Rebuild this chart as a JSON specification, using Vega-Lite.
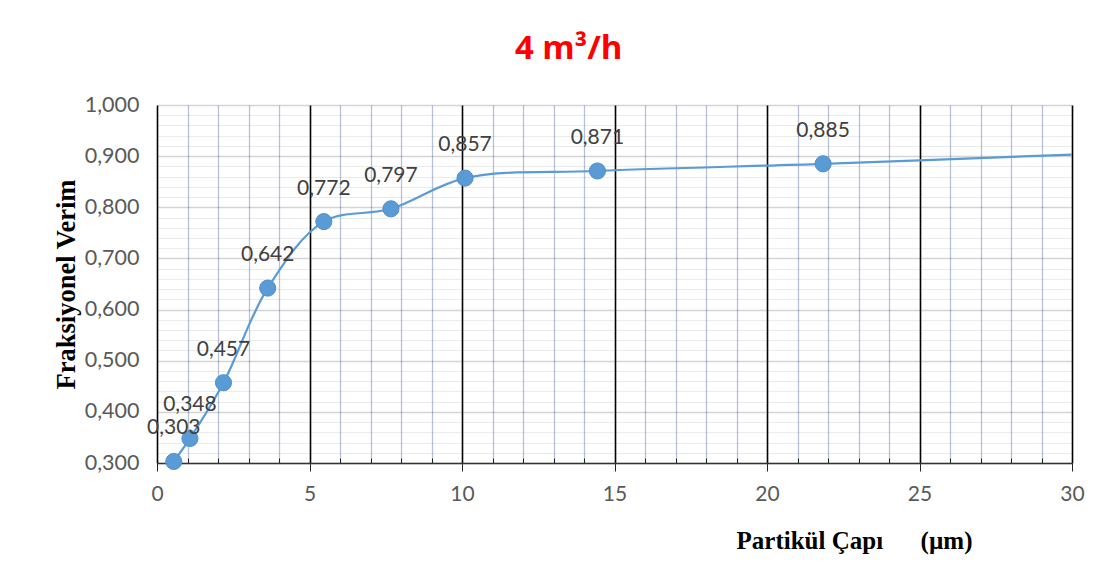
{
  "$schema": "https://vega.github.io/schema/vega-lite/v6.json",
  "width": 915,
  "height": 358,
  "autosize": {"type": "none"},
  "padding": {"left": 157, "top": 105, "right": 45, "bottom": 118},
  "background": "white",
  "title": {
    "text": "4 m³/h",
    "color": "#ff0000",
    "font": "Open Sans",
    "fontWeight": "bold",
    "fontSize": 33,
    "anchor": "middle",
    "frame": "bounds",
    "baseline": "alphabetic",
    "offset": 2
  },
  "data": {
    "values": [
      {"d": 0.55, "v": 0.303, "m": true},
      {"d": 1.08, "v": 0.348, "m": true},
      {"d": 2.18, "v": 0.457, "m": true},
      {"d": 3.63, "v": 0.642, "m": true},
      {"d": 5.47, "v": 0.772, "m": true},
      {"d": 7.67, "v": 0.797, "m": true},
      {"d": 10.1, "v": 0.857, "m": true},
      {"d": 14.44, "v": 0.871, "m": true},
      {"d": 21.84, "v": 0.885, "m": true},
      {"d": 30, "v": 0.903, "m": false}
    ]
  },
  "encoding": {
    "x": {
      "field": "d",
      "type": "quantitative",
      "scale": {"domain": [0, 30], "nice": false},
      "axis": {
        "values": [0,1,2,3,4,5,6,7,8,9,10,11,12,13,14,15,16,17,18,19,20,21,22,23,24,25,26,27,28,29,30],
        "labelExpr": "datum.value % 5 === 0 ? datum.label : ''",
        "labelFlush": false,
        "gridColor": {"condition": {"test": "datum.value % 5 === 0", "value": "#000000"}, "value": "#b7c2d9"},
        "gridWidth": {"condition": {"test": "datum.value % 5 === 0", "value": 1.6}, "value": 1.3},
        "gridOpacity": 1,
        "tickSize": {"condition": {"test": "datum.value % 5 === 0", "value": 8}, "value": -5},
        "tickColor": "#222222",
        "domainColor": "#333333",
        "domainWidth": 1.3,
        "labelFont": "Lato",
        "labelFontSize": 21,
        "labelColor": "#595959",
        "labelPadding": 12,
        "title": "Partikül Çapı\u00a0\u00a0\u00a0\u00a0\u00a0\u00a0(µm)",
        "titleFont": "Liberation Serif",
        "titleFontWeight": "bold",
        "titleFontSize": 25,
        "titleColor": "#000000",
        "titleX": 697,
        "titlePadding": 24
      }
    },
    "y": {
      "field": "v",
      "type": "quantitative",
      "scale": {"domain": [0.3, 1.0], "nice": false, "zero": false},
      "axis": {
        "values": [0.3,0.32,0.34,0.36,0.38,0.4,0.42,0.44,0.46,0.48,0.5,0.52,0.54,0.56,0.58,0.6,0.62,0.64,0.66,0.68,0.7,0.72,0.74,0.76,0.78,0.8,0.82,0.84,0.86,0.88,0.9,0.92,0.94,0.96,0.98,1.0],
        "format": ".3f",
        "labelExpr": "round(datum.value * 100) % 10 === 0 ? replace(format(datum.value, '.3f'), '.', ',') : ''",
        "gridColor": "#000000",
        "gridOpacity": {"condition": {"test": "round(datum.value * 100) % 10 === 0", "value": 0.17}, "value": 0.08},
        "gridWidth": {"condition": {"test": "round(datum.value * 100) % 10 === 0", "value": 1.5}, "value": 1.2},
        "ticks": false,
        "domain": false,
        "labelFont": "Lato",
        "labelFontSize": 21.5,
        "labelColor": "#595959",
        "labelPadding": 18,
        "title": "Fraksiyonel Verim",
        "titleFont": "Liberation Serif",
        "titleFontWeight": "bold",
        "titleFontSize": 26.5,
        "titleColor": "#000000",
        "titlePadding": 4
      }
    }
  },
  "layer": [
    {
      "mark": {"type": "line", "interpolate": "catmull-rom", "color": "#5b9bd5", "strokeWidth": 2.2}
    },
    {
      "transform": [{"filter": "datum.m"}],
      "mark": {"type": "circle", "size": 260, "color": "#5b9bd5", "opacity": 1, "stroke": "#4f8fcb", "strokeWidth": 1}
    },
    {
      "transform": [{"filter": "datum.m"}],
      "mark": {"type": "text", "dy": -33, "font": "Lato", "fontSize": 21, "color": "#404040"},
      "encoding": {
        "text": {"field": "v", "type": "quantitative", "format": ".3f"}
      }
    }
  ],
  "config": {
    "view": {"stroke": null},
    "locale": {"number": {"decimal": ",", "thousands": ".", "grouping": [3], "currency": ["", " TL"]}}
  }
}
